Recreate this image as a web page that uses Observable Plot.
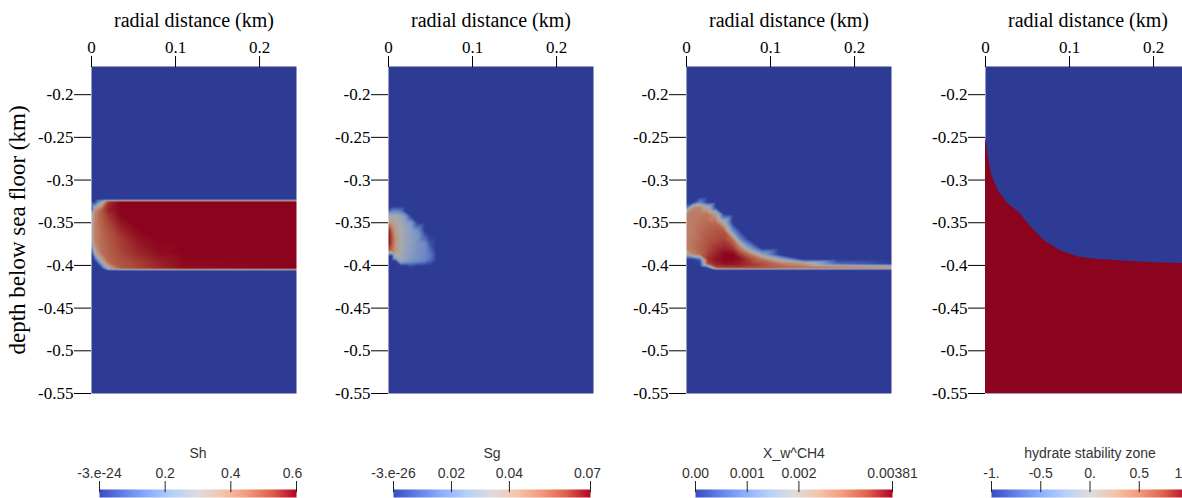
<!DOCTYPE html>
<html><head><meta charset="utf-8">
<script src="https://cdn.jsdelivr.net/npm/d3@7"></script>
<script src="https://cdn.jsdelivr.net/npm/@observablehq/plot@0.6"></script>
<style>
html,body{margin:0;padding:0;background:#fff;}
#root{position:relative;width:1182px;height:498px;overflow:hidden;background:#fff;}
#root > div{position:absolute;}
#root svg{max-width:none !important;}
</style></head><body><div id="root"></div>
<script>
// ---------- axes ----------
const xDomain = [0, 0.244];
const yDomain = [-0.55, -0.167];
const xTicks = [0, 0.1, 0.2];
const yTicks = [-0.2, -0.25, -0.3, -0.35, -0.4, -0.45, -0.5, -0.55];
const xTitle = "radial distance (km)";
const yTitle = "depth below sea floor (km)";

// ---------- Sh (hydrate saturation) ----------
const shX = [0, 0.004, 0.012, 0.02, 0.035, 0.055, 0.08, 0.11, 0.244];
const shY = [-0.167, -0.3225, -0.3255, -0.335, -0.34, -0.355, -0.37, -0.385, -0.395, -0.4035, -0.4065, -0.55];
const shV = [
  [0,0,0,0,0,0,0,0,0],
  [0,0,0,0,0,0,0,0,0],
  [0,0,0.25,0.55,0.6,0.6,0.6,0.6,0.6],
  [0,0.38,0.5,0.57,0.6,0.6,0.6,0.6,0.6],
  [0.26,0.42,0.5,0.55,0.6,0.6,0.6,0.6,0.6],
  [0.28,0.43,0.48,0.52,0.57,0.6,0.6,0.6,0.6],
  [0.28,0.43,0.47,0.5,0.54,0.58,0.6,0.6,0.6],
  [0,0.32,0.46,0.49,0.53,0.56,0.59,0.6,0.6],
  [0,0,0.32,0.48,0.51,0.54,0.57,0.595,0.6],
  [0,0,0,0.32,0.5,0.53,0.56,0.59,0.6],
  [0,0,0,0,0,0,0,0,0],
  [0,0,0,0,0,0,0,0,0]
];

// ---------- Sg (gas saturation) ----------
const sgX = [0, 0.004, 0.008, 0.014, 0.02, 0.027, 0.035, 0.043, 0.05, 0.057, 0.244];
const sgY = [-0.167, -0.331, -0.336, -0.342, -0.35, -0.358, -0.366, -0.374, -0.382, -0.389, -0.395, -0.4005, -0.405, -0.55];
const sgV = [
  [0,0,0,0,0,0,0,0,0,0,0],
  [0,0,0,0,0,0,0,0,0,0,0],
  [0.006,0.015,0.016,0.013,0,0,0,0,0,0,0],
  [0.031,0.031,0.031,0.029,0.022,0,0,0,0,0,0],
  [0.045,0.04,0.036,0.032,0.027,0.022,0,0,0,0,0],
  [0.066,0.052,0.041,0.034,0.029,0.024,0.018,0,0,0,0],
  [0.068,0.058,0.044,0.035,0.029,0.025,0.021,0.008,0,0,0],
  [0.068,0.058,0.045,0.035,0.029,0.025,0.021,0.018,0.004,0,0],
  [0.06,0.052,0.043,0.034,0.028,0.024,0.02,0.018,0.009,0,0],
  [0,0,0.036,0.032,0.027,0.023,0.02,0.017,0.013,0,0],
  [0,0,0,0.029,0.025,0.021,0.018,0.015,0.008,0,0],
  [0,0,0,0,0,0.004,0,0,0,0,0],
  [0,0,0,0,0,0,0,0,0,0,0],
  [0,0,0,0,0,0,0,0,0,0,0]
];

// ---------- X_w^CH4 (dissolved methane) ----------
const chX = [0, 0.008, 0.016, 0.025, 0.035, 0.045, 0.055, 0.065, 0.075, 0.09, 0.11, 0.14, 0.18, 0.244];
const chY = [-0.167, -0.32, -0.326, -0.332, -0.34, -0.35, -0.36, -0.37, -0.38, -0.387, -0.393, -0.398, -0.4015, -0.4035, -0.4055, -0.41, -0.55];
const chV = [
  [0,0,0,0,0,0,0,0,0,0,0,0,0,0],
  [0,0,0,0,0,0,0,0,0,0,0,0,0,0],
  [0,0,0.0009,0,0,0,0,0,0,0,0,0,0,0],
  [0.0006,0.0026,0.0027,0.0021,0,0,0,0,0,0,0,0,0,0],
  [0.0027,0.0028,0.0028,0.0029,0.0024,0,0,0,0,0,0,0,0,0],
  [0.0027,0.0028,0.0029,0.003,0.003,0.002,0,0,0,0,0,0,0,0],
  [0.0027,0.0028,0.003,0.0031,0.0032,0.0032,0.0011,0,0,0,0,0,0,0],
  [0.0027,0.0029,0.003,0.0032,0.0033,0.0034,0.003,0.0009,0,0,0,0,0,0],
  [0.0028,0.0029,0.0031,0.0033,0.0035,0.0036,0.0035,0.0027,0.0014,0,0,0,0,0],
  [0.0018,0.0027,0.003,0.0034,0.0036,0.0038,0.0038,0.0034,0.0029,0.0015,0,0,0,0],
  [0,0,0.0005,0.0035,0.0037,0.0038,0.0038,0.0037,0.0034,0.0029,0.0018,0,0,0],
  [0,0,0,0.0033,0.0036,0.0037,0.0037,0.0036,0.0035,0.0033,0.0029,0.0024,0.0005,0],
  [0,0,0,0.0008,0.0034,0.0035,0.0035,0.0035,0.0034,0.0033,0.0031,0.0029,0.0027,0.0024],
  [0,0,0,0,0.0028,0.003,0.003,0.003,0.003,0.003,0.0029,0.0028,0.0026,0.0024],
  [0,0,0,0,0,0,0,0,0,0,0,0,0,0],
  [0,0,0,0,0,0,0,0,0,0,0,0,0,0],
  [0,0,0,0,0,0,0,0,0,0,0,0,0,0]
];

// ---------- hydrate stability zone boundary ----------
const hszX = [0, 0.003, 0.007, 0.015, 0.027, 0.040, 0.054, 0.070, 0.090, 0.110, 0.134, 0.169, 0.201, 0.244];
const hszY = [-0.250, -0.2695, -0.293, -0.3125, -0.328, -0.338, -0.355, -0.371, -0.383, -0.390, -0.393, -0.395, -0.397, -0.398];

// ---------- colour bars ----------
const cbTitles = ["Sh", "Sg", "X_w^CH4", "hydrate stability zone"];
const cbDomains = [[0, 0.6], [0, 0.068], [0, 0.00381], [-1, 1]];
const cbTickValues = [[0, 0.2, 0.4, 0.6], [0, 0.02, 0.04, 0.068], [0, 0.001, 0.002, 0.00381], [-1, -0.5, 0, 0.5, 1]];
const cbTickLabels = [["-3.e-24","0.2","0.4","0.6"], ["-3.e-26","0.02","0.04","0.07"], ["0.00","0.001","0.002","0.00381"], ["-1.","-0.5","0.","0.5","1"]];

// ---------- layout / style ----------
const frameLefts = [91, 388, 686, 985];
const barLefts = [99, 393, 695, 991];
const barWidth = 197;
const lastLabelShift = [-4, -3, 0, -10];
const coolWarm = [[59,76,192],[98,130,234],[141,176,254],[184,208,249],[221,221,221],[245,196,173],[244,154,123],[222,96,77],[180,4,38]];
const shade = 0.77;
const toRgb = (c, k) => `rgb(${Math.round(c[0]*k)},${Math.round(c[1]*k)},${Math.round(c[2]*k)})`;
const fieldInterp = d3.piecewise(d3.interpolateRgb, coolWarm.map(c => toRgb(c, shade)));
const barInterp = d3.piecewise(d3.interpolateRgb, coolWarm.map(c => toRgb(c, 1)));
const serif = "Liberation Serif";
const sans = "Liberation Sans";

function grid(xs, ys, vs) {
  const out = [];
  ys.forEach((y, i) => xs.forEach((x, j) => out.push({x, y, v: vs[i][j]})));
  return out;
}

function fieldPlot(i, fieldMarks, colorDomain) {
  return Plot.plot({
    width: 298, height: 406,
    marginLeft: 91, marginRight: 2, marginTop: 66, marginBottom: 13,
    x: {domain: xDomain},
    y: {domain: yDomain},
    color: {type: "linear", domain: colorDomain, interpolate: fieldInterp},
    style: {background: "transparent", fontFamily: serif, fontSize: "17px", color: "#000", maxWidth: "none"},
    marks: [
      ...fieldMarks,
      Plot.axisX({anchor: "top", ticks: xTicks, tickSize: 11, tickFormat: () => "", label: null}),
      Plot.axisY({anchor: "left", ticks: yTicks, tickSize: 17, tickFormat: () => "", label: null}),
      Plot.text(xTicks, {x: d => d, frameAnchor: "top", lineAnchor: "bottom", textAnchor: "middle", dy: -14, text: d => String(d), fontSize: 17, fontFamily: serif, fill: "#000"}),
      Plot.text(yTicks, {y: d => d, frameAnchor: "left", lineAnchor: "middle", textAnchor: "end", dx: -18, text: d => String(d), fontSize: 17, fontFamily: serif, fill: "#000"}),
      Plot.text([xTitle], {frameAnchor: "top", lineAnchor: "middle", textAnchor: "middle", dy: -46, fontSize: 20, fontFamily: serif, fill: "#000"}),
      i === 0 ? Plot.text([yTitle], {frameAnchor: "left", lineAnchor: "middle", textAnchor: "middle", dx: -74, rotate: -90, fontSize: 23, fontFamily: serif, fill: "#000"}) : null
    ]
  });
}

function rasterMark(xs, ys, vs) {
  return Plot.raster(grid(xs, ys, vs), {
    x: "x", y: "y", fill: "v", interpolate: "barycentric", pixelSize: 1,
    x1: xDomain[0], x2: xDomain[1], y1: yDomain[0], y2: yDomain[1]
  });
}

function colorBar(i) {
  const dom = cbDomains[i];
  const labels = cbTickLabels[i];
  const ticks = cbTickValues[i];
  const n = ticks.length - 1;
  return Plot.plot({
    width: barWidth + 90, height: 58,
    marginLeft: 45, marginRight: 45, marginTop: 49, marginBottom: 1,
    x: {domain: dom, axis: null},
    y: {domain: [0, 1], axis: null},
    color: {type: "linear", domain: dom, interpolate: barInterp},
    style: {background: "transparent", fontFamily: sans, fontSize: "14px", color: "#333", maxWidth: "none"},
    marks: [
      Plot.raster({x1: dom[0], x2: dom[1], y1: 0, y2: 1, fill: (x, y) => x, pixelSize: 1}),
      Plot.ruleX(ticks, {y1: 0.6, y2: 2.0, stroke: "#222"}),
      Plot.text(ticks.slice(0, n), {x: d => d, y: 3.0, text: (d, j) => labels[j], fill: "#333", fontSize: 14, fontFamily: sans}),
      Plot.text([ticks[n]], {x: d => d, y: 3.0, text: () => labels[n], dx: lastLabelShift[i], fill: "#333", fontSize: 14, fontFamily: sans}),
      Plot.text([cbTitles[i]], {frameAnchor: "top", lineAnchor: "middle", textAnchor: "middle", dy: -36, fill: "#333", fontSize: 14, fontFamily: sans})
    ]
  });
}

const root = document.getElementById("root");
function place(node, left, top, w, h) {
  const div = document.createElement("div");
  div.style.left = left + "px";
  div.style.top = top + "px";
  div.style.width = w + "px";
  div.style.height = h + "px";
  div.appendChild(node);
  root.appendChild(div);
}

const blueField = toRgb(coolWarm[0], shade);
const redField = toRgb(coolWarm[8], shade);
const hszData = hszX.map((x, i) => ({x, y: hszY[i]}));

const panels = [
  fieldPlot(0, [rasterMark(shX, shY, shV)], cbDomains[0]),
  fieldPlot(1, [rasterMark(sgX, sgY, sgV)], cbDomains[1]),
  fieldPlot(2, [rasterMark(chX, chY, chV)], cbDomains[2]),
  fieldPlot(3, [
    Plot.frame({fill: blueField, stroke: null}),
    Plot.areaY(hszData, {x: "x", y1: yDomain[0], y2: "y", fill: redField})
  ], cbDomains[3])
];
panels.forEach((p, i) => place(p, frameLefts[i] - 91, 0, 298, 406));
[0, 1, 2, 3].forEach(i => place(colorBar(i), barLefts[i] - 45, 440, barWidth + 90, 58));
</script>
</body></html>
